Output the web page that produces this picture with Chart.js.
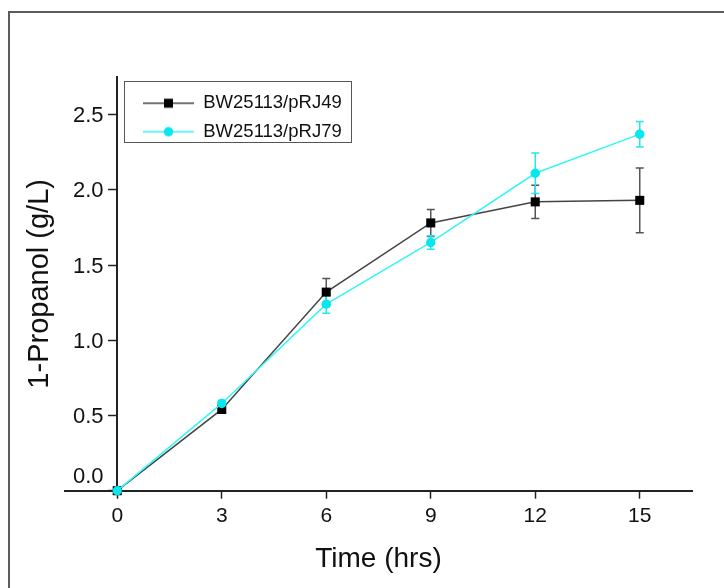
<!DOCTYPE html>
<html>
<head>
<meta charset="utf-8">
<title>1-Propanol production</title>
<script src="https://cdn.jsdelivr.net/npm/chart.js@4.4.1/dist/chart.umd.min.js"></script>
<style>
  html, body { margin: 0; padding: 0; background: #fff; overflow: hidden; }
  #wrap { position: relative; width: 724px; height: 588px; }
  #frame {
    position: absolute; left: 8px; top: 11px; width: 900px; height: 800px;
    border-top: 2px solid #5c5c5c; border-left: 2px solid #5c5c5c;
  }
  canvas { position: absolute; left: 0; top: 0; }
</style>
</head>
<body>
<div id="wrap">
  <div id="frame"></div>
  <canvas id="propanolChart"></canvas>
</div>
<script>
// time points (hrs)
const times = [0, 3, 6, 9, 12, 15];

// 1-propanol titre (g/L) and standard deviations
const pRJ49 = [0, 0.54, 1.32, 1.78, 1.92, 1.93];
const pRJ49Err = [0, 0.02, 0.09, 0.09, 0.11, 0.215];
const pRJ79 = [0, 0.58, 1.24, 1.65, 2.11, 2.37];
const pRJ79Err = [0, 0.02, 0.06, 0.045, 0.135, 0.085];

const xTicks = [0, 3, 6, 9, 12, 15];
const yTicks = [0, 0.5, 1.0, 1.5, 2.0, 2.5];
const yMin = 0;
const yMax = 2.75;

const FONT = '"Liberation Sans", Arial, sans-serif';
Chart.defaults.font.family = FONT;
Chart.defaults.color = '#111';

const toPoints = (ys) => times.map((t, i) => ({ x: t, y: ys[i] }));

// small line + marker sample used as the legend symbol
function legendSymbol(lineColor, markerColor, shape) {
    const c = document.createElement('canvas');
    c.width = 51;
    c.height = 14;
    const g = c.getContext('2d');
    g.strokeStyle = lineColor;
    g.lineWidth = 1.5;
    g.beginPath();
    g.moveTo(0, 7);
    g.lineTo(51, 7);
    g.stroke();
    g.fillStyle = markerColor;
    if (shape === 'rect') {
        g.fillRect(21, 2.5, 9, 9);
    } else {
        g.beginPath();
        g.arc(25.5, 7, 4.7, 0, Math.PI * 2);
        g.fill();
    }
    return c;
}

// vertical error bars with caps
const errorBars = {
    id: 'errorBars',
    beforeDatasetsDraw(chart) {
        const { ctx, scales: { x, y } } = chart;
        chart.data.datasets.forEach((ds) => {
            ctx.save();
            ctx.strokeStyle = ds.errorColor;
            ctx.lineWidth = 1.5;
            ds.data.forEach((p, j) => {
                const e = ds.errors[j];
                if (!e) return;
                const px = x.getPixelForValue(p.x);
                const top = y.getPixelForValue(p.y + e);
                const bot = y.getPixelForValue(p.y - e);
                ctx.beginPath();
                ctx.moveTo(px, top);
                ctx.lineTo(px, bot);
                ctx.moveTo(px - 4, top);
                ctx.lineTo(px + 4, top);
                ctx.moveTo(px - 4, bot);
                ctx.lineTo(px + 4, bot);
                ctx.stroke();
            });
            ctx.restore();
        });
    }
};

// put the legend in the upper left of the plot and give it a box
const legendBox = {
    id: 'legendBox',
    afterLayout(chart) {
        const lg = chart.legend;
        lg.left = 133;
        lg.top = 84;
        lg.right = 352;
        lg.bottom = 200;
        lg.width = lg.right - lg.left;
        lg.height = lg.bottom - lg.top;
    },
    afterDraw(chart) {
        const lg = chart.legend;
        const ctx = chart.ctx;
        ctx.save();
        ctx.strokeStyle = '#555';
        ctx.lineWidth = 1;
        ctx.strokeRect(lg.left - 8.5, lg.top - 2.5, 227, 61);
        ctx.restore();
    }
};

const yLabel = v => v === 0 ? ['0.0', ''] : v.toFixed(1);

const ctx = document.getElementById('propanolChart').getContext('2d');

new Chart(ctx, {
    type: 'line',
    data: {
        datasets: [
            {
                label: 'BW25113/pRJ49',
                data: toPoints(pRJ49),
                errors: pRJ49Err,
                errorColor: '#555',
                borderColor: '#444',
                borderWidth: 1.5,
                pointStyle: 'rect',
                pointRadius: 6.4,
                pointBackgroundColor: '#000',
                pointBorderWidth: 0,
                order: 1,
                clip: false,
                xAxisID: 'x',
                yAxisID: 'y'
            },
            {
                label: 'BW25113/pRJ79',
                data: toPoints(pRJ79),
                errors: pRJ79Err,
                errorColor: '#22e8f0',
                borderColor: '#33f6f6',
                borderWidth: 1.5,
                pointStyle: 'circle',
                pointRadius: 4.7,
                pointBackgroundColor: '#08e6ee',
                pointBorderWidth: 0,
                order: 0,
                clip: false,
                xAxisID: 'x',
                yAxisID: 'y'
            }
        ]
    },
    options: {
        responsive: true,
        maintainAspectRatio: false,
        animation: false,
        layout: {
            padding: { left: 10, right: 32, top: 77, bottom: 12.2 }
        },
        plugins: {
            tooltip: { enabled: false },
            legend: {
                position: 'chartArea',
                align: 'start',
                labels: {
                    color: '#111',
                    font: { size: 18.5 },
                    padding: 10,
                    usePointStyle: true,
                    pointStyleWidth: 51,
                    sort: (a, b) => a.datasetIndex - b.datasetIndex,
                    generateLabels(chart) {
                        const items = Chart.defaults.plugins.legend.labels.generateLabels(chart);
                        items.forEach(it => {
                            it.pointStyle = it.datasetIndex === 0
                                ? legendSymbol('#444', '#000', 'rect')
                                : legendSymbol('#33f6f6', '#08e6ee', 'circle');
                        });
                        return items;
                    }
                }
            }
        },
        scales: {
            x: {
                type: 'linear',
                position: 'bottom',
                min: -1.5,
                max: 16.5,
                afterBuildTicks: s => { s.ticks = xTicks.map(v => ({ value: v })); },
                grid: { drawOnChartArea: false, tickLength: 8, tickColor: '#222', tickWidth: 1.5 },
                border: { color: '#222', width: 2 },
                ticks: { font: { size: 21 }, color: '#111', padding: 5 },
                title: {
                    display: true,
                    text: 'Time (hrs)',
                    font: { size: 28 },
                    color: '#111',
                    padding: { top: 8.3, bottom: 0 }
                }
            },
            // axis line and tick marks, crossing the time axis at t = 0
            y: {
                type: 'linear',
                position: { x: 0 },
                min: yMin,
                max: yMax,
                afterBuildTicks: s => { s.ticks = yTicks.map(v => ({ value: v })); },
                grid: { drawOnChartArea: false, tickLength: 8, tickColor: '#222', tickWidth: 1.5 },
                border: { color: '#222', width: 2 },
                ticks: { display: false }
            },
            // tick labels and title for the concentration axis
            yLabels: {
                type: 'linear',
                position: 'left',
                min: yMin,
                max: yMax,
                afterBuildTicks: s => { s.ticks = yTicks.map(v => ({ value: v })); },
                afterFit: s => { s.width = 55; },
                grid: { display: false, drawTicks: false },
                border: { display: false },
                ticks: {
                    mirror: true,
                    padding: 8,
                    labelOffset: 1.5,
                    font: { size: 22, lineHeight: 1.35 },
                    color: '#111',
                    callback: yLabel
                },
                title: {
                    display: true,
                    text: '1-Propanol (g/L)',
                    font: { size: 29 },
                    color: '#111',
                    padding: { top: 12.6, bottom: 0 }
                }
            }
        }
    },
    plugins: [errorBars, legendBox]
});
</script>
</body>
</html>
